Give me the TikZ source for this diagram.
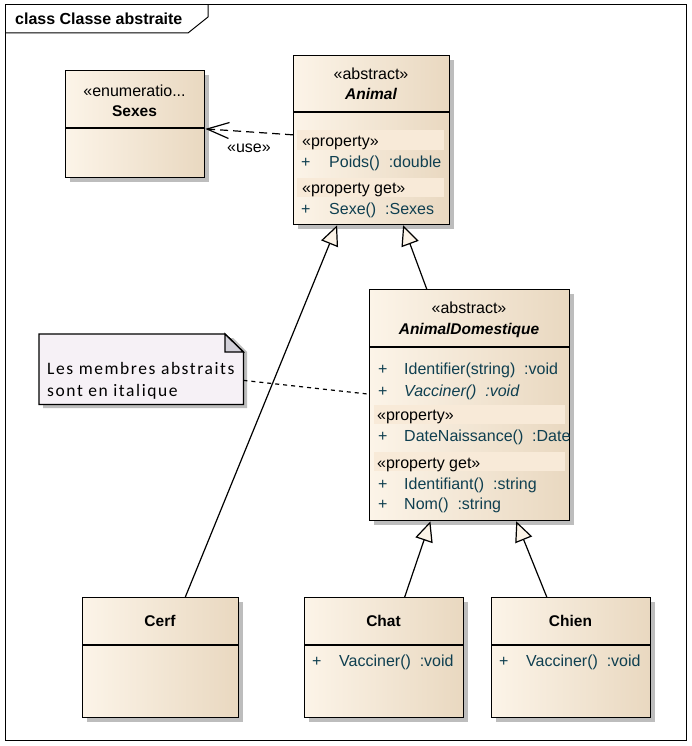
\documentclass[tikz,border=0pt]{standalone}
\usepackage{fontspec}
\setmainfont{Liberation Sans}
\newfontfamily\notefont[LetterSpace=9]{Carlito}
\usetikzlibrary{arrows.meta,shadows}
\definecolor{boxL}{HTML}{FCF4E8}
\definecolor{boxR}{HTML}{E9D8C0}
\definecolor{bandc}{HTML}{F8EAD8}
\definecolor{memberc}{HTML}{0F3F50}
\definecolor{notefill}{HTML}{F6F1F6}
\definecolor{foldc}{HTML}{D2D0D8}
\definecolor{shadowc}{HTML}{BDBDBD}
\tikzset{
  classbox/.style={draw=black, line width=1.3pt, left color=boxL, right color=boxR,
    general shadow={fill=shadowc, shadow xshift=4pt, shadow yshift=-4pt},
    anchor=north west, inner sep=0pt},
  divider/.style={line width=1.3pt},
  band/.style={fill=bandc},
  txt/.style={inner sep=0pt, anchor=base, yshift=-1.5pt},
  bold/.style={txt, font=\fontsize{15.5}{18}\selectfont\bfseries},
  member/.style={inner sep=0pt, anchor=base west, text=memberc, yshift=-1.5pt},
  stereo/.style={inner sep=0pt, anchor=base west, yshift=-1.5pt},
  notetext/.style={inner sep=0pt, anchor=base west, yshift=-1pt, font=\notefont\fontsize{17.5}{20}\selectfont},
  gen/.style={line width=1.2pt, -{Triangle[length=20pt,width=18pt,fill=boxL]}},
  dep/.style={line width=1.2pt, dash pattern=on 8pt off 5pt, -{Straight Barb[length=22pt,width=16pt]}},
  notelink/.style={line width=1.2pt, dash pattern=on 4pt off 4pt},
}
\begin{document}
\begin{tikzpicture}[x=1pt,y=-1pt, font=\fontsize{16}{19}\selectfont]
\useasboundingbox (0,0) rectangle (692,746);
\fill[white] (0,0) rectangle (692,746);
% frame
\draw[line width=1pt] (5,5) rectangle (686,740);
\draw[line width=1pt] (5,33) -- (188,33) -- (208,17) -- (208,5);
\node[inner sep=0pt, anchor=base west, font=\fontsize{16}{19}\selectfont\bfseries] (title) at (15,25) {class Classe abstraite};

% Sexes
\node[classbox, minimum width=139pt, minimum height=107pt] (sexes) at (65,70) {};
\draw[divider] (sexes.west |- 0,128) -- (sexes.east |- 0,128);
\node[txt] (sexesst) at (134.5,95) {«enumeratio...};
\node[bold] (sexesname) at (134.5,115) {Sexes};

% Animal
\node[classbox, minimum width=156pt, minimum height=169pt] (animal) at (293,55) {};
\draw[divider] (animal.west |- 0,112) -- (animal.east |- 0,112);
\node[txt] (animalst) at (371,78) {«abstract»};
\node[bold, font=\fontsize{15.5}{18}\selectfont\bfseries\itshape] (animalname) at (371,98) {Animal};
\fill[band] (297,130) rectangle (444,150);
\fill[band] (297,178) rectangle (444,197);
\node[stereo] (ap1) at (302,145) {«property»};
\node[member] (am1p) at (301,166) {+};
\node[member] (am1) at (329,166) {Poids()\ \ :double};
\node[stereo] (ap2) at (302,192) {«property get»};
\node[member] (am2p) at (301,213) {+};
\node[member] (am2) at (329,213) {Sexe()\ \ :Sexes};

% AnimalDomestique
\node[classbox, minimum width=200pt, minimum height=231pt] (ad) at (369,289) {};
\draw[divider] (ad.west |- 0,347) -- (ad.east |- 0,347);
\node[txt] (adst) at (469,312) {«abstract»};
\node[bold, font=\fontsize{15.5}{18}\selectfont\bfseries\itshape] (adname) at (469,333) {AnimalDomestique};
\fill[band] (374,405) rectangle (565,424);
\fill[band] (374,452) rectangle (565,471);
\node[member] (dm1p) at (378,373) {+};
\node[member] (dm1) at (404,373) {Identifier(string)\ \ :void};
\node[member] (dm2p) at (378,395) {+};
\node[member, font=\fontsize{16}{19}\selectfont\itshape] (dm2) at (404,395) {Vacciner()\ \ :void};
\node[stereo] (dp1) at (377,419) {«property»};
\node[member] (dm3p) at (378,440) {+};
\node[member] (dm3) at (404,440) {DateNaissance()\ \ :Date};
\node[stereo] (dp2) at (377,467) {«property get»};
\node[member] (dm4p) at (378,488) {+};
\node[member] (dm4) at (404,488) {Identifiant()\ \ :string};
\node[member] (dm5p) at (378,508) {+};
\node[member] (dm5) at (404,508) {Nom()\ \ :string};

% Cerf, Chat, Chien
\node[classbox, minimum width=156pt, minimum height=120pt] (cerf) at (82,597) {};
\draw[divider] (cerf.west |- 0,645) -- (cerf.east |- 0,645);
\node[bold] (cerfname) at (160,625) {Cerf};

\node[classbox, minimum width=159pt, minimum height=120pt] (chat) at (304,597) {};
\draw[divider] (chat.west |- 0,645) -- (chat.east |- 0,645);
\node[bold] (chatname) at (383.5,625) {Chat};
\node[member] (cm1p) at (312,665) {+};
\node[member] (cm1) at (339,665) {Vacciner()\ \ :void};

\node[classbox, minimum width=159pt, minimum height=120pt] (chien) at (491,597) {};
\draw[divider] (chien.west |- 0,645) -- (chien.east |- 0,645);
\node[bold] (chienname) at (570.5,625) {Chien};
\node[member] (hm1p) at (499,665) {+};
\node[member] (hm1) at (526,665) {Vacciner()\ \ :void};

% Note
\node[inner sep=0pt, minimum width=204pt, minimum height=70pt, anchor=north west] (note) at (39,334) {};
\fill[shadowc] (43,338) -- (233,338) -- (247,352) -- (247,408) -- (43,408) -- cycle;
\filldraw[fill=notefill, line width=1.3pt] (note.north west) -- (225,334) -- (note.east |- 0,352) -- (note.south east) -- (note.south west) -- cycle;
\filldraw[fill=foldc, line width=1.3pt] (225,334) -- (225,352) -- (note.east |- 0,352) -- cycle;
\node[notetext] (notel1) at (47,373) {Les membres abstraits};
\node[notetext] (notel2) at (47,395) {sont en italique};

% connectors
\draw[gen] (cerf) -- (animal);
\draw[gen] (ad) -- (animal);
\draw[gen] (chat) -- (ad);
\draw[gen] (chien) -- (ad);
\draw[dep] (animal) -- (sexes);
\node[txt] (uselabel) at (249,151) {«use»};
\draw[notelink] (note) -- (ad);
\end{tikzpicture}
\end{document}
